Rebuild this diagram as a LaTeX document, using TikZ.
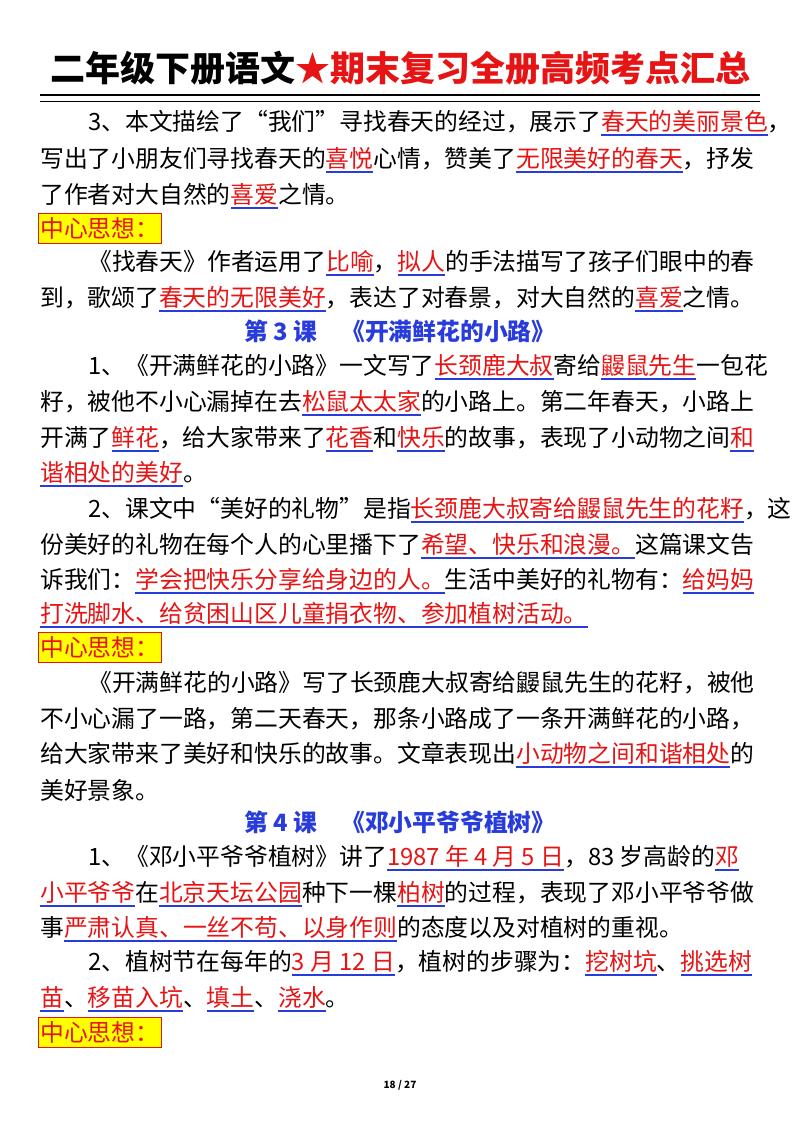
\documentclass[tikz,border=0pt]{standalone}
\usepackage{fontspec}
\setmainfont{Noto Sans CJK SC}
\definecolor{hred}{RGB}{230,20,20}
\definecolor{hblue}{RGB}{40,60,220}
\definecolor{hyel}{RGB}{255,255,0}
\newsavebox\hlbox
\newcommand\hl[1]{\sbox\hlbox{\textcolor{hred}{#1}}\rlap{\textcolor{hblue}{\rule[-5pt]{\wd\hlbox}{1.2pt}}}\usebox\hlbox}
\newcommand\bodyfont{\fontsize{23.8pt}{28pt}\selectfont}
\begin{document}
\begin{tikzpicture}[x=1pt,y=1pt,
  ln/.style={anchor=west,inner sep=0pt,font=\bodyfont},
  hd/.style={inner sep=0pt,font=\bodyfont\bfseries,text=hblue},
  cx/.style={anchor=west,draw=hred,fill=hyel,inner sep=2pt,font=\bodyfont,text=hred,minimum height=30pt}]
\useasboundingbox (0,0) rectangle (800,-1132);
\fill[white] (0,0) rectangle (800,-1132);
\node[inner sep=0pt,font=\fontsize{35pt}{40pt}\selectfont\bfseries] (title) at (400,-68) {二年级下册语文\textcolor{hred}{★期末复习全册高频考点汇总}};
\draw[line width=2.5pt] (40,-95) -- (760,-95);
\draw[line width=1pt] (40,-101) -- (760,-101);
\node[ln] (a1) at (88,-123) {3、本文描绘了“我们”寻找春天的经过，展示了\hl{春天的美丽景色}，};
\node[ln] (a2) at (40,-160) {写出了小朋友们寻找春天的\hl{喜悦}心情，赞美了\hl{无限美好的春天}，抒发};
\node[ln] (a3) at (40,-196) {了作者对大自然的\hl{喜爱}之情。};
\node[cx] (c1) at (38,-228) {中心思想：};
\node[ln] (b1) at (88,-263) {《找春天》作者运用了\hl{比喻}，\hl{拟人}的手法描写了孩子们眼中的春};
\node[ln] (b2) at (40,-299) {到，歌颂了\hl{春天的无限美好}，表达了对春景，对大自然的\hl{喜爱}之情。};
\node[hd] (h3) at (400,-331) {第 3 课\quad《开满鲜花的小路》};
\node[ln] (d1) at (88,-367) {1、《开满鲜花的小路》一文写了\hl{长颈鹿大叔}寄给\hl{鼹鼠先生}一包花};
\node[ln] (d2) at (40,-403) {籽，被他不小心漏掉在去\hl{松鼠太太家}的小路上。第二年春天，小路上};
\node[ln] (d3) at (40,-439) {开满了\hl{鲜花}，给大家带来了\hl{花香}和\hl{快乐}的故事，表现了小动物之间\hl{和}};
\node[ln] (d4) at (40,-474) {\hl{谐相处的美好}。};
\node[ln] (e1) at (88,-510) {2、课文中“美好的礼物”是指\hl{长颈鹿大叔寄给鼹鼠先生的花籽}，这};
\node[ln] (e2) at (40,-546) {份美好的礼物在每个人的心里播下了\hl{希望、快乐和浪漫。}这篇课文告};
\node[ln] (e3) at (40,-581) {诉我们：\hl{学会把快乐分享给身边的人。}生活中美好的礼物有：\hl{给妈妈}};
\node[ln] (e4) at (40,-615) {\hl{打洗脚水、给贫困山区儿童捐衣物、参加植树活动。}};
\node[cx] (c2) at (38,-647) {中心思想：};
\node[ln] (f1) at (88,-683) {《开满鲜花的小路》写了长颈鹿大叔寄给鼹鼠先生的花籽，被他};
\node[ln] (f2) at (40,-719) {不小心漏了一路，第二天春天，那条小路成了一条开满鲜花的小路，};
\node[ln] (f3) at (40,-755) {给大家带来了美好和快乐的故事。文章表现出\hl{小动物之间和谐相处}的};
\node[ln] (f4) at (40,-790) {美好景象。};
\node[hd] (h4) at (400,-822) {第 4 课\quad《邓小平爷爷植树》};
\node[ln] (g1) at (88,-858) {1、《邓小平爷爷植树》讲了\hl{1987 年 4 月 5 日}，83 岁高龄的\hl{邓}};
\node[ln] (g2) at (40,-894) {\hl{小平爷爷}在\hl{北京天坛公园}种下一棵\hl{柏树}的过程，表现了邓小平爷爷做};
\node[ln] (g3) at (40,-929) {事\hl{严肃认真、一丝不苟、以身作则}的态度以及对植树的重视。};
\node[ln] (k1) at (88,-963) {2、植树节在每年的\hl{3 月 12 日}，植树的步骤为：\hl{挖树坑}、\hl{挑选树}};
\node[ln] (k2) at (40,-999) {\hl{苗}、\hl{移苗入坑}、\hl{填土}、\hl{浇水}。};
\node[cx] (c3) at (38,-1032) {中心思想：};
\node[inner sep=0pt,font=\fontsize{10pt}{12pt}\selectfont\bfseries] (pg) at (400,-1085) {18 / 27};
\end{tikzpicture}
\end{document}
